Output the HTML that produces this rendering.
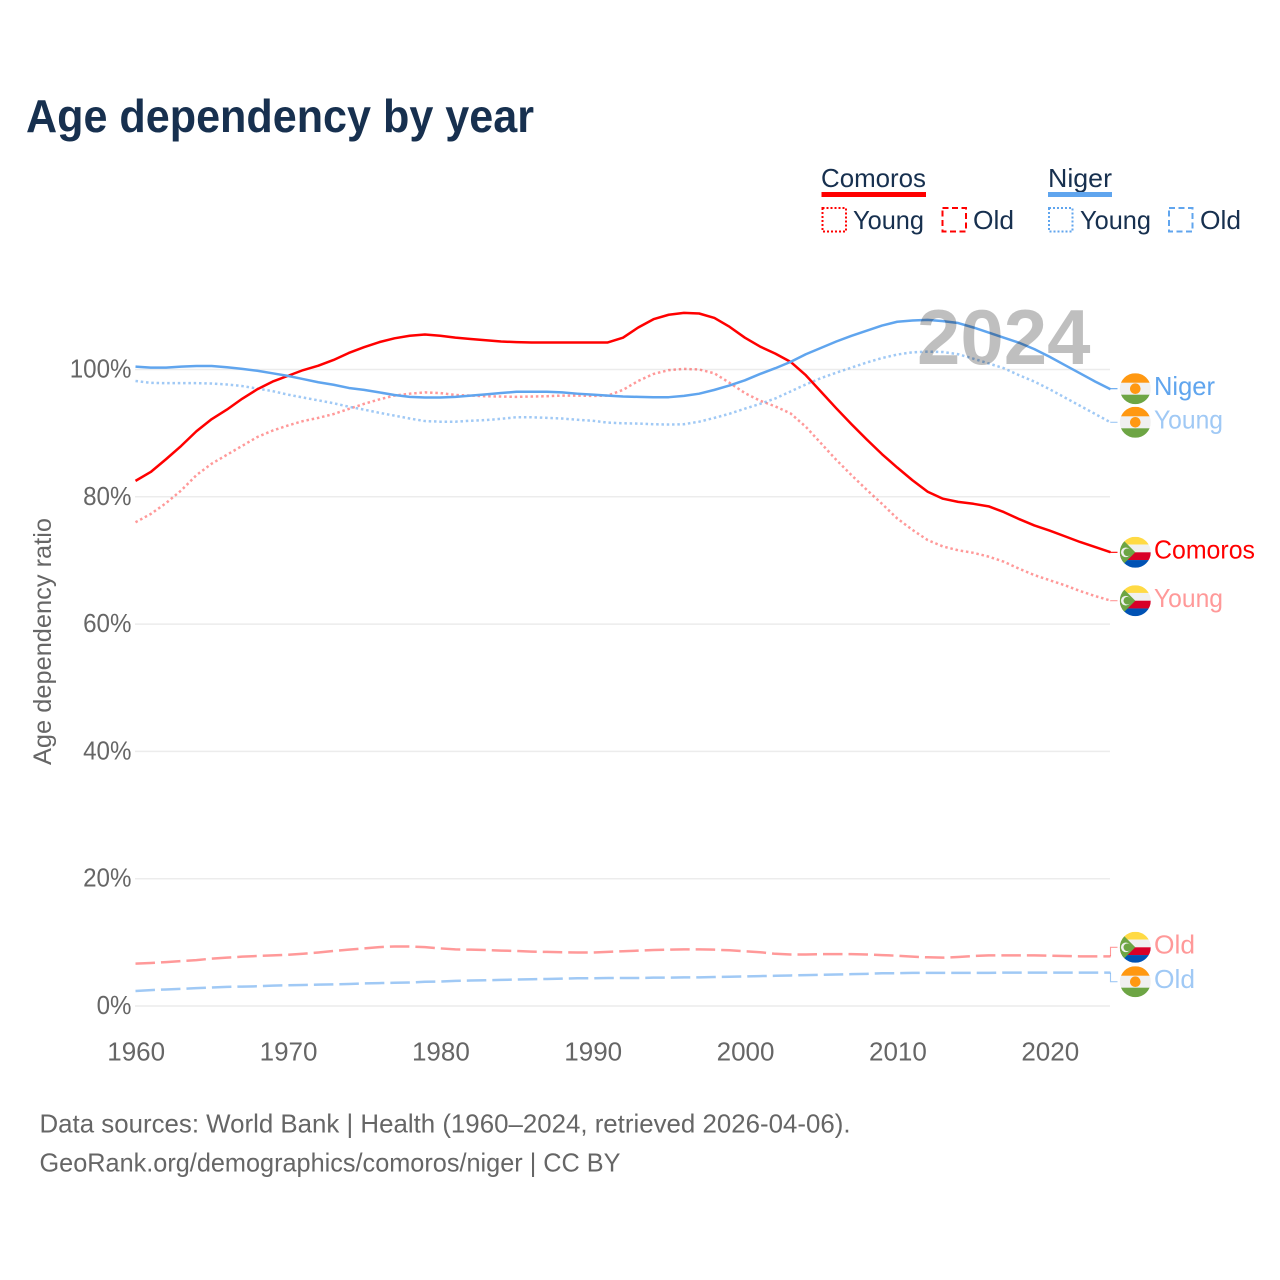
<!DOCTYPE html>
<html lang="en">
<head>
<meta charset="utf-8">
<title>Age dependency by year</title>
<style>
html,body{margin:0;padding:0;background:#fff}
svg{display:block}
text{font-family:"Liberation Sans",sans-serif}
</style>
</head>
<body>
<svg id="chart" xmlns="http://www.w3.org/2000/svg" width="1280" height="1280" viewBox="0 0 1280 1280">
  <rect width="1280" height="1280" fill="#fff"/>
  <text x="26" y="132" font-size="46" font-weight="700" fill="#17304f" textLength="508" lengthAdjust="spacingAndGlyphs">Age dependency by year</text>

  <g font-size="26" fill="#17304f">
    <g>
      <text x="821" y="187" textLength="105" lengthAdjust="spacingAndGlyphs">Comoros</text>
      <rect x="821.5" y="192" width="104.5" height="5" fill="#ff0000"/>
      <rect x="822.5" y="208" width="23.5" height="23.5" fill="none" stroke="#ff0000" stroke-width="2" stroke-dasharray="2 2"/>
      <text x="853" y="229" textLength="71" lengthAdjust="spacingAndGlyphs">Young</text>
      <rect x="942.5" y="208" width="23.5" height="23.5" fill="none" stroke="#ff0000" stroke-width="2" stroke-dasharray="6 3.5"/>
      <text x="973" y="229" textLength="41" lengthAdjust="spacingAndGlyphs">Old</text>
    </g>
    <g>
      <text x="1048" y="187" textLength="64" lengthAdjust="spacingAndGlyphs">Niger</text>
      <rect x="1048" y="192" width="64" height="5" fill="#60a5ee"/>
      <rect x="1049" y="208" width="23.5" height="23.5" fill="none" stroke="#60a5ee" stroke-width="2" stroke-dasharray="2 2"/>
      <text x="1080" y="229" textLength="71" lengthAdjust="spacingAndGlyphs">Young</text>
      <rect x="1169" y="208" width="23.5" height="23.5" fill="none" stroke="#60a5ee" stroke-width="2" stroke-dasharray="6 3.5"/>
      <text x="1200" y="229" textLength="41" lengthAdjust="spacingAndGlyphs">Old</text>
    </g>
  </g>

  <text transform="translate(51,765) rotate(-90)" font-size="25" fill="#666" textLength="247" lengthAdjust="spacingAndGlyphs">Age dependency ratio</text>

  <g id="grid"></g>
  <g id="yticks"></g>
  <g id="xticks"></g>
  <g id="lines"></g>

  <text x="917" y="364" font-size="78" font-weight="700" fill="#000" fill-opacity="0.25">2024</text>

  <g id="endlabels"></g>

  <g font-size="26" fill="#666">
    <text x="39.5" y="1132.5" textLength="811" lengthAdjust="spacingAndGlyphs">Data sources: World Bank | Health (1960–2024, retrieved 2026-04-06).</text>
    <text x="39.5" y="1171.5" textLength="581" lengthAdjust="spacingAndGlyphs">GeoRank.org/demographics/comoros/niger | CC BY</text>
  </g>
</svg>

<script>
const startYear = 1960;
const yTickValues = [0, 20, 40, 60, 80, 100];
const yTickLabels = ['0%', '20%', '40%', '60%', '80%', '100%'];
const xTickValues = [1960, 1970, 1980, 1990, 2000, 2010, 2020];
const xTickLabels = ['1960', '1970', '1980', '1990', '2000', '2010', '2020'];

const comorosTotal = [82.5,83.9,85.9,88.0,90.3,92.2,93.7,95.4,96.9,98.1,99.0,99.9,100.6,101.5,102.6,103.5,104.3,104.9,105.3,105.5,105.3,105.0,104.8,104.6,104.4,104.3,104.25,104.25,104.25,104.25,104.25,104.25,105.0,106.6,107.9,108.6,108.9,108.8,108.1,106.7,105.0,103.6,102.5,101.2,99.1,96.5,93.9,91.4,89.0,86.7,84.6,82.6,80.8,79.7,79.2,78.9,78.5,77.6,76.5,75.5,74.7,73.8,72.9,72.1,71.3];
const comorosYoung = [76.0,77.3,79.0,81.0,83.4,85.2,86.6,88.0,89.4,90.4,91.2,91.9,92.4,93.0,93.8,94.6,95.3,95.9,96.2,96.4,96.3,96.0,95.9,95.8,95.75,95.7,95.75,95.8,95.9,95.9,95.85,95.9,96.8,98.2,99.3,99.9,100.1,100.0,99.4,97.9,96.3,95.1,94.2,93.1,91.0,88.4,85.8,83.4,81.1,78.9,76.6,74.8,73.2,72.2,71.6,71.2,70.6,69.8,68.7,67.7,66.9,66.1,65.2,64.4,63.7];
const comorosOld = [6.65,6.75,6.9,7.05,7.2,7.45,7.6,7.75,7.85,7.95,8.05,8.2,8.4,8.65,8.85,9.05,9.25,9.35,9.35,9.25,9.05,8.9,8.85,8.8,8.7,8.65,8.55,8.5,8.45,8.4,8.4,8.5,8.6,8.7,8.8,8.85,8.9,8.9,8.85,8.75,8.6,8.45,8.2,8.1,8.1,8.15,8.15,8.15,8.1,8.0,7.9,7.75,7.65,7.6,7.7,7.85,7.95,7.95,7.95,7.95,7.9,7.85,7.8,7.8,7.8];
const nigerTotal = [100.45,100.3,100.3,100.45,100.55,100.55,100.35,100.1,99.8,99.4,99.0,98.5,98.0,97.6,97.1,96.8,96.4,96.0,95.7,95.6,95.6,95.7,95.9,96.1,96.3,96.5,96.5,96.5,96.4,96.2,96.05,95.9,95.75,95.7,95.65,95.65,95.85,96.2,96.8,97.5,98.3,99.3,100.2,101.2,102.4,103.4,104.4,105.3,106.1,106.9,107.5,107.7,107.8,107.6,107.3,106.6,105.8,105.0,104.2,103.2,102.0,100.7,99.4,98.1,96.9];
const nigerYoung = [98.2,97.9,97.85,97.85,97.85,97.8,97.65,97.4,97.0,96.6,96.05,95.6,95.15,94.7,94.15,93.7,93.2,92.75,92.3,91.9,91.8,91.8,91.95,92.05,92.25,92.5,92.5,92.4,92.3,92.1,91.95,91.65,91.55,91.5,91.4,91.35,91.4,91.8,92.4,93.05,93.85,94.6,95.45,96.55,97.65,98.65,99.5,100.3,101.1,101.8,102.35,102.7,102.8,102.75,102.4,101.7,100.95,100.2,99.1,98.1,96.9,95.6,94.3,93.0,91.7];
const nigerOld = [2.35,2.5,2.6,2.7,2.8,2.9,3.0,3.05,3.1,3.2,3.25,3.3,3.35,3.4,3.45,3.55,3.6,3.65,3.7,3.8,3.85,3.95,4.0,4.05,4.1,4.15,4.2,4.25,4.3,4.35,4.35,4.4,4.4,4.4,4.45,4.45,4.5,4.5,4.55,4.6,4.65,4.7,4.75,4.8,4.85,4.9,4.95,5.0,5.05,5.15,5.15,5.2,5.2,5.2,5.2,5.2,5.2,5.25,5.25,5.25,5.25,5.25,5.25,5.25,5.25];

const NS = 'http://www.w3.org/2000/svg';
function xScale(year) { return 135.5 + (year - startYear) * (975 / 64); }
function yScale(v) { return 1006 - v * 6.365; }
function make(tag, attrs, parent) {
  const el = document.createElementNS(NS, tag);
  for (const k in attrs) el.setAttribute(k, attrs[k]);
  parent.appendChild(el);
  return el;
}

const gridG = document.getElementById('grid');
const yG = document.getElementById('yticks');
yTickValues.forEach(function (v, i) {
  const line = make('line', {x1: 135, x2: 1110, y1: yScale(v), y2: yScale(v), stroke: '#ececec', 'stroke-width': 1.5}, gridG);
  
  
  const t = make('text', {x: 131.5, y: yScale(v) + 8, 'text-anchor': 'end', 'font-size': 26, fill: '#666'}, yG);
  
  
  t.textContent = yTickLabels[i];
  t.setAttribute('lengthAdjust', 'spacingAndGlyphs');
  t.setAttribute('textLength', (t.getComputedTextLength() * 0.93).toFixed(1));
});

const xG = document.getElementById('xticks');
xTickValues.forEach(function (v, i) {
  const t = make('text', {x: xScale(v) + 0.7, y: 1060.5, 'text-anchor': 'middle', 'font-size': 26, fill: '#666'}, xG);
  
  
  t.textContent = xTickLabels[i];
});

const linesG = document.getElementById('lines');
const labelsG = document.getElementById('endlabels');

function drawFlag(kind, cy, parent) {
  const cx = 1135.3, r = 15.5;
  const clipId = 'clip-' + kind + '-' + Math.round(cy);
  const g = make('g', {}, parent);
  
  
  const cp = make('clipPath', {id: clipId}, g);
  make('circle', {cx: cx, cy: cy, r: r}, cp);
  const f = make('g', {'clip-path': 'url(#' + clipId + ')'}, g);
  const top = cy - r, left = cx - r;
  if (kind === 'niger') {
    make('rect', {x: left, y: top, width: 2 * r, height: 31, fill: '#f0f0f0'}, f);
    make('rect', {x: left, y: top, width: 2 * r, height: 9.5, fill: '#ff9811'}, f);
    make('rect', {x: left, y: top + 21.5, width: 2 * r, height: 9.5, fill: '#6da544'}, f);
    make('circle', {cx: cx, cy: cy, r: 5.3, fill: '#ff9811'}, f);
  } else {
    make('rect', {x: left, y: top, width: 2 * r, height: 7.75, fill: '#ffda44'}, f);
    make('rect', {x: left, y: top + 7.75, width: 2 * r, height: 7.75, fill: '#f0f0f0'}, f);
    make('rect', {x: left, y: top + 15.5, width: 2 * r, height: 7.75, fill: '#d80027'}, f);
    make('rect', {x: left, y: top + 23.25, width: 2 * r, height: 7.75, fill: '#0052b4'}, f);
    make('polygon', {points: [left, top, cx, cy, left, top + 31].join(','), fill: '#6da544'}, f);
    make('circle', {cx: cx - 9.5, cy: cy, r: 4.8, fill: '#f0f0f0'}, f);
    make('circle', {cx: cx - 8, cy: cy, r: 3.8, fill: '#6da544'}, f);
  }
}

function drawSeries(name, values, color, opacity, dash, kind, label, labelColor, flagY, labelWidth) {
  const lastX = xScale(startYear + values.length - 1);
  const lastY = yScale(values[values.length - 1]);
  const d = values.map(function (v, i) {
    return (i ? 'L' : 'M') + xScale(startYear + i).toFixed(2) + ' ' + yScale(v).toFixed(2);
  }).join(' ');
  const path = make('path', {d: d, fill: 'none', stroke: color, 'stroke-opacity': opacity, 'stroke-width': 2.5, 'stroke-linejoin': 'round'}, linesG);
  if (dash) path.setAttribute('stroke-dasharray', dash);
  
  

  const conn = make('path', {d: 'M' + lastX + ' ' + lastY + ' L' + lastX + ' ' + flagY + ' L1117.5 ' + flagY, fill: 'none', stroke: color, 'stroke-opacity': opacity, 'stroke-width': 1.1}, linesG);
  
  

  drawFlag(kind, flagY, labelsG);

  const t = make('text', {x: 1154, y: flagY + 6.2, 'font-size': 26, fill: labelColor, textLength: labelWidth, lengthAdjust: 'spacingAndGlyphs'}, labelsG);
  
  
  t.textContent = label;
}

drawSeries('comoros-old', comorosOld, '#ff0000', 0.4, '19.5 6', 'comoros', 'Old', '#ff9999', 947.3, 41);
drawSeries('niger-old', nigerOld, '#60a5ee', 0.6, '19.5 6', 'niger', 'Old', '#a0c9f5', 981.7, 41);
drawSeries('comoros-young', comorosYoung, '#ff0000', 0.4, '2.5 2.8', 'comoros', 'Young', '#ff9999', 600.7, 69);
drawSeries('niger-young', nigerYoung, '#60a5ee', 0.6, '2.5 2.8', 'niger', 'Young', '#a0c9f5', 422.3, 69);
drawSeries('comoros-total', comorosTotal, '#ff0000', 1, '', 'comoros', 'Comoros', '#ff0000', 552.3, 101);
drawSeries('niger-total', nigerTotal, '#60a5ee', 1, '', 'niger', 'Niger', '#60a5ee', 388.7, 61);
</script>
</body>
</html>
